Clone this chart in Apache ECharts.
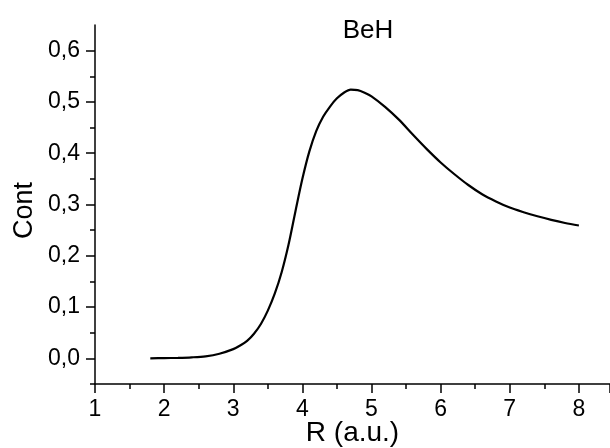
<!DOCTYPE html>
<html>
<head>
<meta charset="utf-8">
<script src="https://cdn.jsdelivr.net/npm/echarts@6/dist/echarts.min.js"></script>
<style>html,body{margin:0;padding:0;background:#fff}#c{width:610px;height:448px}</style>
</head>
<body>
<div id="c"></div>
<script>
const titleText = 'BeH';
const xName = 'R (a.u.)';
const yName = 'Cont';
const rValues = [1.8, 2.0, 2.2, 2.4, 2.6, 2.8, 3.0, 3.1, 3.2, 3.3, 3.4, 3.5, 3.6, 3.7, 3.8, 3.9, 4.0, 4.1, 4.2, 4.3, 4.4, 4.5, 4.6, 4.7, 4.8, 4.9, 5.0, 5.2, 5.4, 5.6, 5.8, 6.0, 6.2, 6.4, 6.6, 6.8, 7.0, 7.2, 7.4, 7.6, 7.8, 8.0];
const contValues = [0.000, 0.0005, 0.001, 0.002, 0.004, 0.009, 0.018, 0.025, 0.034, 0.048, 0.067, 0.093, 0.126, 0.168, 0.222, 0.287, 0.35, 0.403, 0.443, 0.471, 0.491, 0.507, 0.518, 0.524, 0.523, 0.518, 0.511, 0.49, 0.465, 0.436, 0.408, 0.382, 0.359, 0.338, 0.32, 0.306, 0.294, 0.285, 0.277, 0.27, 0.264, 0.259];
const yMajorTicks = [0, 0.1, 0.2, 0.3, 0.4, 0.5, 0.6];
const yMinorTicks = [-0.05, 0.05, 0.15, 0.25, 0.35, 0.45, 0.55];
const xTickLabels = ['1', '2', '3', '4', '5', '6', '7', '8'];

const font = 'Liberation Sans, Arial, sans-serif';
const chart = echarts.init(document.getElementById('c'));
const lineSt = { color: '#000', width: 1.5 };
chart.setOption({
  animation: false,
  title: { text: titleText, left: 363, top: 13, textAlign: 'center',
    textStyle: { fontFamily: font, fontSize: 26, fontWeight: 'normal', color: '#000' } },
  grid: { left: 95, top: 25, right: 0, bottom: 64, containLabel: false, outerBoundsMode: 'none' },
  xAxis: {
    type: 'value', min: 1, max: 8.45, interval: 1,
    name: xName, nameLocation: 'middle', nameGap: 35, nameMoveOverlap: false,
    nameTextStyle: { fontFamily: font, fontSize: 28, color: '#000' },
    axisLine: { onZero: false, lineStyle: lineSt },
    axisTick: { length: 9, lineStyle: lineSt },
    minorTick: { show: true, splitNumber: 2, length: 5, lineStyle: lineSt },
    splitLine: { show: false },
    axisLabel: { fontFamily: font, fontSize: 23, color: '#000', margin: 14,
      showMaxLabel: false,
      formatter: v => xTickLabels[Math.round(v) - 1] || '' }
  },
  yAxis: [{
    type: 'value', min: -0.05, max: 0.65,
    name: yName, nameLocation: 'middle', nameGap: 57, nameMoveOverlap: false,
    nameTextStyle: { fontFamily: font, fontSize: 27, color: '#000', padding: [0, 12, 0, 0] },
    axisLine: { show: true, onZero: false, lineStyle: lineSt },
    axisTick: { show: true, length: 9, customValues: yMajorTicks, lineStyle: lineSt },
    splitLine: { show: false },
    axisLabel: { fontFamily: font, fontSize: 23, color: '#000', margin: 15,
      customValues: yMajorTicks,
      formatter: v => v.toFixed(1).replace('.', ',') }
  }, {
    type: 'value', min: -0.05, max: 0.65, position: 'left',
    axisLine: { show: false, onZero: false },
    axisTick: { show: true, length: 5, customValues: yMinorTicks, lineStyle: lineSt },
    axisLabel: { show: false },
    splitLine: { show: false }
  }],
  series: [{
    type: 'line', yAxisIndex: 0, showSymbol: false, smooth: 0.3,
    lineStyle: { color: '#000', width: 2.2 },
    data: rValues.map((r, i) => [r, contValues[i]])
  }]
});
</script>
</body>
</html>
